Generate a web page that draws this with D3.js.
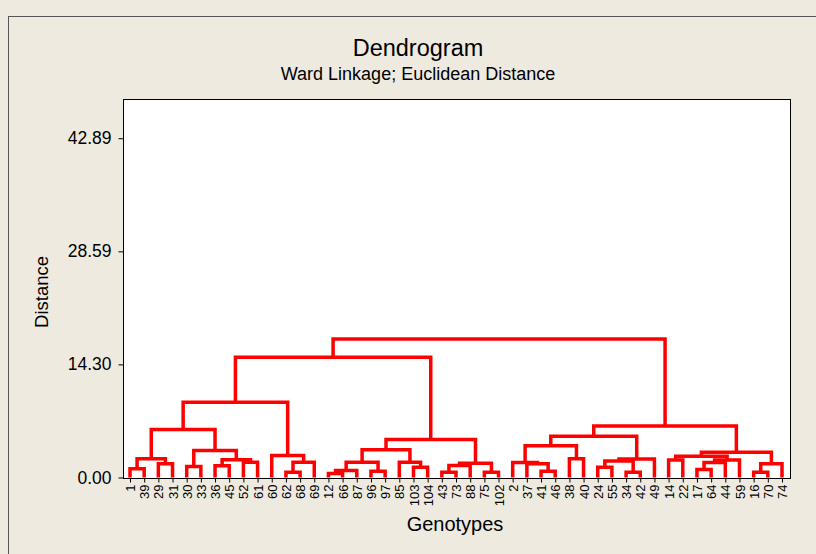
<!DOCTYPE html>
<html>
<head>
<meta charset="utf-8">
<script src="https://cdn.jsdelivr.net/npm/d3@7"></script>
<style>
  html, body { margin: 0; padding: 0; background: #EEEAE0; }
  svg { display: block; }
  text { font-family: "Liberation Sans", Arial, sans-serif; fill: #000; }
</style>
</head>
<body>
<svg id="chart" width="816" height="554"></svg>
<script>
// ---- data ----
const leaves = ["1","39","29","31","30","33","36","45","52","61","60","62","68","69",
  "12","66","87","96","97","85","103","104","43","73","88","75","102",
  "2","37","41","46","38","40","24","55","34","42","49",
  "14","22","17","64","44","59","16","70","74"];

// merges: [childA, childB, distance]; ids 0..46 are leaves, 47+ are merges in order
const mergeA = [0,2,47,4,6,8,51,50,49,11,56,10,55,
  14,60,17,61,20,19,63,22,67,25,68,66,59,
  29,28,27,31,75,33,35,78,80,77,38,40,84,85,83,44,88,87,82,72];
const mergeB = [1,3,48,5,7,9,52,53,54,12,13,57,58,
  15,16,18,62,21,64,65,23,24,26,69,70,71,
  30,73,74,32,76,34,36,79,37,81,39,41,42,43,86,45,46,89,90,91];
const mergeDist = [1.10,1.73,2.37,1.39,1.50,1.94,2.24,3.42,6.08,0.67,1.94,2.78,9.50,
  0.50,0.89,0.80,1.94,1.30,1.94,3.50,0.67,1.52,0.67,1.80,4.80,15.20,
  0.80,1.75,1.90,2.37,4.00,1.30,0.67,2.10,2.35,5.23,2.20,1.00,1.90,2.20,2.70,0.67,1.73,3.20,6.50,17.50];

const yTickValues = [0, 14.30, 28.59, 42.89];
const yMax = 47.85;

const title = "Dendrogram";
const subtitle = "Ward Linkage; Euclidean Distance";
const xLabel = "Genotypes";
const yLabel = "Distance";

// ---- layout ----
const svg = d3.select("#chart");
const plot = {left: 123, right: 790, top: 99, bottom: 478};

// outer frame (extends beyond visible area on right/bottom)
svg.append("rect").attr("x", 8.5).attr("y", 16.5).attr("width", 900).attr("height", 700)
  .attr("fill", "#EEEAE0").attr("stroke", "#555").attr("stroke-width", 1);

svg.append("rect").attr("x", plot.left + 0.5).attr("y", plot.top + 0.5)
  .attr("width", plot.right - plot.left).attr("height", plot.bottom - plot.top)
  .attr("fill", "#fff").attr("stroke", "#000").attr("stroke-width", 1);

const x = d3.scalePoint().domain(leaves).range([130, 782]);
const y = d3.scaleLinear().domain([0, yMax]).range([477.5, plot.top]);

// y axis
const yAxis = svg.append("g").attr("transform", `translate(${plot.left + 0.5},0)`)
  .call(d3.axisLeft(y).tickValues(yTickValues).tickFormat(d3.format(".2f")).tickSize(5).tickSizeOuter(0));
yAxis.select(".domain").remove();
yAxis.selectAll("text").attr("font-size", 17.5).attr("font-family", "Liberation Sans, Arial, sans-serif").attr("x", -12);
yAxis.selectAll("line").attr("stroke", "#000");

// x axis (leaf labels)
const xAxis = svg.append("g").attr("transform", `translate(0,${plot.bottom + 0.5})`)
  .call(d3.axisBottom(x).tickSize(4).tickSizeOuter(0));
xAxis.select(".domain").remove();
xAxis.selectAll("line").attr("stroke", "#000");
xAxis.selectAll("text")
  .attr("font-size", 13).attr("font-family", "Liberation Sans, Arial, sans-serif")
  .attr("transform", "rotate(-90)")
  .attr("x", -6).attr("y", 0).attr("dy", "0.35em")
  .attr("text-anchor", "end");

// ---- dendrogram links ----
const nodeX = leaves.map(l => x(l));
const nodeH = leaves.map(() => 0);
mergeA.forEach((a, k) => {
  const b = mergeB[k];
  nodeX.push((nodeX[a] + nodeX[b]) / 2);
  nodeH.push(mergeDist[k]);
});

const links = mergeA.map((a, k) => ({a, b: mergeB[k], h: mergeDist[k]}));
svg.append("g").selectAll("path").data(links).join("path")
  .attr("d", d => `M${nodeX[d.a]},${y(nodeH[d.a])}V${y(d.h)}H${nodeX[d.b]}V${y(nodeH[d.b])}`)
  .attr("fill", "none").attr("stroke", "#FF0000").attr("stroke-width", 3.5)
  .attr("stroke-linejoin", "miter");

// ---- titles ----
svg.append("text").attr("x", 418).attr("y", 56).attr("text-anchor", "middle")
  .attr("font-size", 23.5).text(title);
svg.append("text").attr("x", 418).attr("y", 80).attr("text-anchor", "middle")
  .attr("font-size", 18).text(subtitle);
svg.append("text").attr("x", 455).attr("y", 531).attr("text-anchor", "middle")
  .attr("font-size", 20).text(xLabel);
svg.append("text").attr("transform", "translate(48,292) rotate(-90)").attr("text-anchor", "middle")
  .attr("font-size", 18.5).text(yLabel);
</script>
</body>
</html>
